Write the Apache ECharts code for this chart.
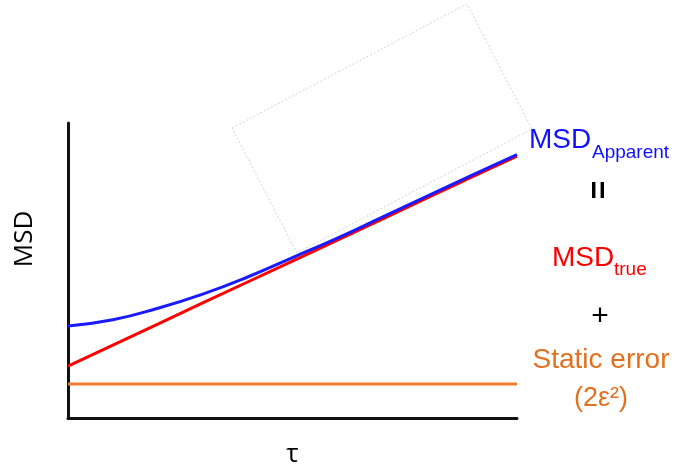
<!DOCTYPE html>
<html>
<head>
<meta charset="utf-8">
<script src="https://cdn.jsdelivr.net/npm/echarts@6/dist/echarts.min.js"></script>
<style>
html,body{margin:0;padding:0;background:#fff;}
#chart{width:675px;height:470px;}
</style>
</head>
<body>
<div id="chart"></div>
<script>
// Data (arbitrary units; lag time τ on x)
const tau = [0, 1, 2, 3, 4, 5, 6, 7, 8, 9, 10];
const msdTrue = [1.76, 2.47, 3.18, 3.90, 4.61, 5.32, 6.03, 6.74, 7.46, 8.17, 8.88];
const msdApparent = [3.12, 3.33, 3.72, 4.20, 4.78, 5.44, 6.10, 6.81, 7.52, 8.23, 8.93];
const staticTau = [0, 10];
const staticError = [1.15, 1.15];

const pair = (xs, ys) => xs.map((x, i) => [x, ys[i]]);

const chart = echarts.init(document.getElementById('chart'), null, {renderer: 'canvas'});
const FONT = '"Liberation Sans", Arial, sans-serif';

chart.setOption({
  animation: false,
  backgroundColor: '#ffffff',
  grid: {left: 68, right: 158, top: 123, bottom: 52, containLabel: false, outerBoundsMode: 'none'},
  xAxis: {
    type: 'value', min: 0, max: 10,
    name: 'τ', nameLocation: 'middle', nameGap: 24,
    nameTextStyle: {fontFamily: '"Open Sans", sans-serif', fontSize: 26, color: '#000'},
    axisLine: {show: true, lineStyle: {color: '#111', width: 3}},
    axisTick: {show: false}, axisLabel: {show: false}, splitLine: {show: false}
  },
  yAxis: {
    type: 'value', min: 0, max: 10,
    axisLine: {show: true, lineStyle: {color: '#111', width: 3}},
    axisTick: {show: false}, axisLabel: {show: false}, splitLine: {show: false}
  },
  graphic: [
    {type: 'polygon', z: -1, silent: true,
     shape: {points: [[232,128],[467,4],[532,129],[297,253]]},
     style: {fill: 'none', stroke: '#c8c8c8', lineWidth: 0.8, lineDash: [2, 2]}},
    {type: 'text', x: 25, y: 239, rotation: Math.PI / 2,
     style: {text: 'MSD', font: '26px "Open Sans", sans-serif', fill: '#000', align: 'center', verticalAlign: 'middle'}},
    {type: 'text', x: 529, y: 140, style: {text: 'MSD', font: '28px ' + FONT, fill: '#1010ff', align: 'left', verticalAlign: 'middle'}},
    {type: 'text', x: 592, y: 153, style: {text: 'Apparent', font: '19px ' + FONT, fill: '#1010ff', align: 'left', verticalAlign: 'middle'}},
    {type: 'text', x: 600, y: 190, rotation: Math.PI / 2,
     style: {text: '=', font: 'bold 32px ' + FONT, fill: '#000', align: 'center', verticalAlign: 'middle'}},
    {type: 'text', x: 552, y: 258, style: {text: 'MSD', font: '28px ' + FONT, fill: '#ff0000', align: 'left', verticalAlign: 'middle'}},
    {type: 'text', x: 614, y: 270, style: {text: 'true', font: '19px ' + FONT, fill: '#ff0000', align: 'left', verticalAlign: 'middle'}},
    {type: 'text', x: 600, y: 317, style: {text: '+', font: '30px ' + FONT, fill: '#000', align: 'center', verticalAlign: 'middle'}},
    {type: 'text', x: 601, y: 360, style: {text: 'Static error', font: '28px ' + FONT, fill: '#e2701e', align: 'center', verticalAlign: 'middle'}},
    {type: 'text', x: 601, y: 399, style: {text: '(2ε²)', font: '27px ' + FONT, fill: '#e2701e', align: 'center', verticalAlign: 'middle'}}
  ],
  series: [
    {type: 'line', name: 'Static error', data: pair(staticTau, staticError), showSymbol: false,
     lineStyle: {color: '#ed7d31', width: 3}, z: 2},
    {type: 'line', name: 'MSD true', data: pair(tau, msdTrue), showSymbol: false,
     lineStyle: {color: '#ff0000', width: 3}, z: 3},
    {type: 'line', name: 'MSD apparent', data: pair(tau, msdApparent), showSymbol: false, smooth: true,
     lineStyle: {color: '#1a1aff', width: 3}, z: 4}
  ]
});
</script>
</body>
</html>
